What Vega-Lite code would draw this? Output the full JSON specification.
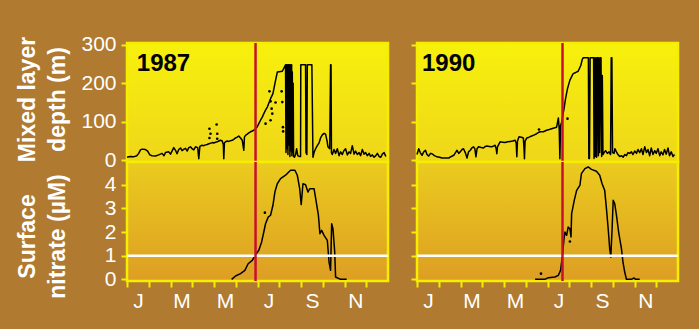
{
"$schema": "https://vega.github.io/schema/vega-lite/v6.json",
"padding": {"left": 14, "top": 32, "right": 18, "bottom": 20},
"background": "#b07a30",
"datasets": {
"mld87": [{"m":0.00,"v":8},{"m":0.15,"v":10},{"m":0.30,"v":9},{"m":0.45,"v":12},{"m":0.54,"v":18},{"m":0.62,"v":27},{"m":0.69,"v":29},{"m":0.85,"v":28},{"m":0.95,"v":24},{"m":1.05,"v":14},{"m":1.15,"v":12},{"m":1.31,"v":11},{"m":1.46,"v":14},{"m":1.61,"v":18},{"m":1.70,"v":12},{"m":1.77,"v":20},{"m":1.92,"v":22},{"m":2.00,"v":16},{"m":2.07,"v":24},{"m":2.15,"v":33},{"m":2.23,"v":26},{"m":2.30,"v":17},{"m":2.38,"v":28},{"m":2.46,"v":32},{"m":2.53,"v":25},{"m":2.62,"v":29},{"m":2.69,"v":31},{"m":2.77,"v":24},{"m":2.84,"v":33},{"m":2.92,"v":35},{"m":2.99,"v":30},{"m":3.07,"v":27},{"m":3.15,"v":35},{"m":3.25,"v":33},{"m":3.30,"v":4},{"m":3.35,"v":36},{"m":3.45,"v":39},{"m":3.53,"v":38},{"m":3.61,"v":40},{"m":3.69,"v":41},{"m":3.76,"v":43},{"m":3.84,"v":44},{"m":3.92,"v":46},{"m":3.99,"v":45},{"m":4.07,"v":47},{"m":4.15,"v":48},{"m":4.22,"v":50},{"m":4.30,"v":52},{"m":4.38,"v":50},{"m":4.43,"v":40},{"m":4.45,"v":4},{"m":4.48,"v":45},{"m":4.53,"v":48},{"m":4.61,"v":50},{"m":4.68,"v":49},{"m":4.76,"v":51},{"m":4.84,"v":52},{"m":4.92,"v":55},{"m":4.99,"v":58},{"m":5.07,"v":60},{"m":5.14,"v":63},{"m":5.22,"v":58},{"m":5.30,"v":52},{"m":5.37,"v":26},{"m":5.40,"v":60},{"m":5.45,"v":65},{"m":5.53,"v":68},{"m":5.60,"v":71},{"m":5.68,"v":74},{"m":5.76,"v":76},{"m":5.83,"v":78},{"m":5.91,"v":82},{"m":5.99,"v":87},{"m":6.06,"v":95},{"m":6.14,"v":104},{"m":6.22,"v":112},{"m":6.29,"v":121},{"m":6.37,"v":130},{"m":6.45,"v":138},{"m":6.52,"v":148},{"m":6.60,"v":160},{"m":6.71,"v":173},{"m":6.80,"v":199},{"m":6.91,"v":229},{"m":7.00,"v":230},{"m":7.14,"v":231},{"m":7.22,"v":240},{"m":7.29,"v":248},{"m":7.31,"v":20},{"m":7.33,"v":248},{"m":7.35,"v":248},{"m":7.36,"v":30},{"m":7.38,"v":248},{"m":7.40,"v":15},{"m":7.42,"v":248},{"m":7.44,"v":248},{"m":7.45,"v":40},{"m":7.47,"v":248},{"m":7.49,"v":10},{"m":7.51,"v":248},{"m":7.53,"v":25},{"m":7.55,"v":248},{"m":7.57,"v":248},{"m":7.58,"v":12},{"m":7.60,"v":230},{"m":7.62,"v":20},{"m":7.64,"v":200},{"m":7.66,"v":10},{"m":7.70,"v":8},{"m":7.75,"v":15},{"m":7.80,"v":30},{"m":7.85,"v":12},{"m":7.91,"v":10},{"m":7.98,"v":10},{"m":7.99,"v":248},{"m":8.21,"v":248},{"m":8.23,"v":20},{"m":8.27,"v":15},{"m":8.29,"v":248},{"m":8.50,"v":248},{"m":8.55,"v":8},{"m":8.60,"v":20},{"m":8.67,"v":30},{"m":8.75,"v":38},{"m":8.83,"v":45},{"m":8.90,"v":58},{"m":8.98,"v":66},{"m":9.06,"v":70},{"m":9.13,"v":68},{"m":9.20,"v":50},{"m":9.24,"v":35},{"m":9.32,"v":30},{"m":9.36,"v":248},{"m":9.38,"v":248},{"m":9.40,"v":20},{"m":9.44,"v":15},{"m":9.52,"v":28},{"m":9.59,"v":18},{"m":9.67,"v":30},{"m":9.75,"v":12},{"m":9.82,"v":22},{"m":9.90,"v":15},{"m":9.97,"v":25},{"m":10.05,"v":30},{"m":10.13,"v":14},{"m":10.21,"v":22},{"m":10.28,"v":18},{"m":10.36,"v":38},{"m":10.44,"v":16},{"m":10.51,"v":24},{"m":10.59,"v":15},{"m":10.67,"v":20},{"m":10.74,"v":12},{"m":10.82,"v":28},{"m":10.90,"v":16},{"m":10.97,"v":20},{"m":11.05,"v":12},{"m":11.13,"v":18},{"m":11.20,"v":10},{"m":11.28,"v":14},{"m":11.36,"v":8},{"m":11.44,"v":12},{"m":11.51,"v":18},{"m":11.59,"v":10},{"m":11.67,"v":8},{"m":11.74,"v":16},{"m":11.82,"v":20},{"m":11.90,"v":10}],
"mld90": [{"m":0.00,"v":15},{"m":0.08,"v":30},{"m":0.15,"v":20},{"m":0.23,"v":13},{"m":0.31,"v":22},{"m":0.39,"v":26},{"m":0.46,"v":15},{"m":0.54,"v":11},{"m":0.62,"v":18},{"m":0.69,"v":17},{"m":0.80,"v":12},{"m":0.92,"v":9},{"m":1.04,"v":8},{"m":1.15,"v":6},{"m":1.30,"v":6},{"m":1.46,"v":6},{"m":1.58,"v":10},{"m":1.69,"v":13},{"m":1.77,"v":20},{"m":1.84,"v":26},{"m":1.92,"v":18},{"m":1.99,"v":22},{"m":2.07,"v":28},{"m":2.14,"v":30},{"m":2.22,"v":20},{"m":2.30,"v":6},{"m":2.37,"v":22},{"m":2.45,"v":26},{"m":2.52,"v":32},{"m":2.60,"v":35},{"m":2.66,"v":30},{"m":2.71,"v":9},{"m":2.76,"v":30},{"m":2.83,"v":35},{"m":2.95,"v":33},{"m":3.06,"v":32},{"m":3.14,"v":36},{"m":3.21,"v":37},{"m":3.32,"v":36},{"m":3.44,"v":35},{"m":3.52,"v":37},{"m":3.59,"v":39},{"m":3.64,"v":30},{"m":3.67,"v":17},{"m":3.70,"v":35},{"m":3.82,"v":48},{"m":3.93,"v":47},{"m":4.05,"v":46},{"m":4.17,"v":48},{"m":4.28,"v":49},{"m":4.40,"v":50},{"m":4.51,"v":52},{"m":4.56,"v":45},{"m":4.59,"v":9},{"m":4.62,"v":50},{"m":4.69,"v":61},{"m":4.80,"v":60},{"m":4.89,"v":58},{"m":4.92,"v":30},{"m":4.94,"v":4},{"m":4.97,"v":50},{"m":5.05,"v":58},{"m":5.15,"v":60},{"m":5.27,"v":63},{"m":5.40,"v":66},{"m":5.50,"v":69},{"m":5.58,"v":72},{"m":5.66,"v":74},{"m":5.81,"v":74},{"m":5.96,"v":78},{"m":6.08,"v":80},{"m":6.19,"v":82},{"m":6.30,"v":84},{"m":6.42,"v":86},{"m":6.50,"v":110},{"m":6.54,"v":80},{"m":6.57,"v":4},{"m":6.60,"v":90},{"m":6.65,"v":99},{"m":6.70,"v":115},{"m":6.76,"v":134},{"m":6.83,"v":160},{"m":6.92,"v":186},{"m":7.03,"v":208},{"m":7.18,"v":225},{"m":7.30,"v":228},{"m":7.41,"v":231},{"m":7.53,"v":246},{"m":7.60,"v":262},{"m":7.64,"v":266},{"m":7.88,"v":266},{"m":7.90,"v":5},{"m":7.93,"v":5},{"m":7.96,"v":266},{"m":8.12,"v":266},{"m":8.14,"v":5},{"m":8.18,"v":266},{"m":8.20,"v":10},{"m":8.23,"v":266},{"m":8.26,"v":8},{"m":8.29,"v":266},{"m":8.32,"v":266},{"m":8.34,"v":12},{"m":8.37,"v":266},{"m":8.40,"v":20},{"m":8.43,"v":266},{"m":8.46,"v":266},{"m":8.49,"v":10},{"m":8.52,"v":220},{"m":8.55,"v":15},{"m":8.60,"v":20},{"m":8.67,"v":25},{"m":8.75,"v":18},{"m":8.83,"v":22},{"m":8.90,"v":15},{"m":8.93,"v":266},{"m":8.96,"v":266},{"m":8.99,"v":20},{"m":9.06,"v":18},{"m":9.10,"v":30},{"m":9.17,"v":22},{"m":9.24,"v":15},{"m":9.32,"v":10},{"m":9.40,"v":12},{"m":9.48,"v":8},{"m":9.55,"v":15},{"m":9.63,"v":12},{"m":9.70,"v":20},{"m":9.78,"v":18},{"m":9.86,"v":22},{"m":9.93,"v":15},{"m":10.01,"v":24},{"m":10.09,"v":18},{"m":10.16,"v":28},{"m":10.24,"v":20},{"m":10.32,"v":30},{"m":10.39,"v":15},{"m":10.47,"v":35},{"m":10.55,"v":20},{"m":10.62,"v":28},{"m":10.70,"v":12},{"m":10.77,"v":32},{"m":10.85,"v":15},{"m":10.93,"v":25},{"m":11.00,"v":18},{"m":11.08,"v":30},{"m":11.16,"v":12},{"m":11.23,"v":22},{"m":11.31,"v":14},{"m":11.38,"v":28},{"m":11.46,"v":16},{"m":11.54,"v":32},{"m":11.61,"v":12},{"m":11.69,"v":22},{"m":11.77,"v":10},{"m":11.84,"v":15}],
"no87": [{"m":4.81,"v":0.0},{"m":4.99,"v":0.14},{"m":5.22,"v":0.24},{"m":5.42,"v":0.38},{"m":5.57,"v":0.66},{"m":5.76,"v":0.80},{"m":5.91,"v":1.04},{"m":6.06,"v":1.23},{"m":6.19,"v":1.58},{"m":6.29,"v":2.0},{"m":6.37,"v":2.35},{"m":6.49,"v":2.63},{"m":6.60,"v":2.71},{"m":6.71,"v":3.13},{"m":6.80,"v":3.69},{"m":6.91,"v":4.04},{"m":7.06,"v":4.26},{"m":7.29,"v":4.40},{"m":7.52,"v":4.61},{"m":7.72,"v":4.61},{"m":7.83,"v":4.40},{"m":7.94,"v":3.83},{"m":8.01,"v":3.16},{"m":8.09,"v":4.04},{"m":8.21,"v":4.0},{"m":8.32,"v":3.69},{"m":8.40,"v":3.83},{"m":8.60,"v":3.83},{"m":8.70,"v":3.27},{"m":8.80,"v":2.71},{"m":8.87,"v":1.93},{"m":8.95,"v":2.07},{"m":9.06,"v":1.86},{"m":9.21,"v":1.65},{"m":9.29,"v":0.73},{"m":9.36,"v":0.38},{"m":9.41,"v":2.35},{"m":9.47,"v":2.14},{"m":9.55,"v":1.16},{"m":9.59,"v":0.10},{"m":9.82,"v":0.0},{"m":10.10,"v":0.0}],
"no90": [{"m":5.43,"v":0},{"m":5.88,"v":0},{"m":6.04,"v":0.07},{"m":6.34,"v":0.1},{"m":6.50,"v":0.17},{"m":6.60,"v":0.38},{"m":6.68,"v":0.94},{"m":6.76,"v":1.72},{"m":6.80,"v":2.0},{"m":6.88,"v":1.86},{"m":6.95,"v":2.21},{"m":7.03,"v":2.14},{"m":7.08,"v":1.79},{"m":7.11,"v":2.78},{"m":7.23,"v":3.34},{"m":7.34,"v":3.76},{"m":7.49,"v":3.97},{"m":7.56,"v":4.47},{"m":7.72,"v":4.68},{"m":7.87,"v":4.75},{"m":8.02,"v":4.65},{"m":8.25,"v":4.57},{"m":8.40,"v":4.40},{"m":8.51,"v":4.04},{"m":8.63,"v":3.76},{"m":8.71,"v":2.99},{"m":8.79,"v":2.14},{"m":8.86,"v":1.30},{"m":8.91,"v":0.94},{"m":8.97,"v":2.14},{"m":9.02,"v":3.34},{"m":9.09,"v":3.20},{"m":9.17,"v":2.71},{"m":9.27,"v":2.0},{"m":9.40,"v":1.30},{"m":9.47,"v":0.73},{"m":9.55,"v":0.31},{"m":9.63,"v":0},{"m":9.86,"v":0},{"m":9.98,"v":0.06},{"m":10.05,"v":0},{"m":10.24,"v":0}],
"dots87u": [{"m":3.79,"v":82},{"m":3.79,"v":58},{"m":3.84,"v":69},{"m":4.12,"v":93},{"m":4.15,"v":69},{"m":4.15,"v":56},{"m":6.37,"v":95},{"m":6.55,"v":179},{"m":6.60,"v":153},{"m":6.65,"v":134},{"m":6.68,"v":121},{"m":6.60,"v":104},{"m":6.83,"v":150},{"m":7.11,"v":179},{"m":7.14,"v":151},{"m":7.17,"v":86},{"m":7.18,"v":75}],
"dots87l": [{"m":6.34,"v":2.82}],
"dots90u": [{"m":5.61,"v":80},{"m":6.92,"v":108}],
"dots90l": [{"m":5.70,"v":0.24},{"m":7.03,"v":1.6}],
"years": [{"year":1987,"m":5.91,"label":"1987"},{"year":1990,"m":6.69,"label":"1990"}]
},
"columns": 2,
"bounds": "flush",
"spacing": {"row": 0, "column": 29},
"concat": [
{
"width": 261, "height": 119,
"view": {"fill": {"gradient": "linear", "x1": 0, "y1": 0, "x2": 0, "y2": 1, "stops": [{"offset": 0, "color": "#f7f10c"}, {"offset": 1, "color": "#efd61a"}]}},
"layer": [
{"data": {"name": "mld87"}, "mark": {"type": "line", "color": "#000000", "strokeWidth": 1.5, "strokeJoin": "round"},
 "encoding": {"x": {"field": "m", "type": "quantitative", "scale": {"domain": [0, 12], "nice": false, "zero": false}, "axis": {"values": [0,1,2,3,4,5,6,7,8,9,10,11], "tickCount": 30, "labels": false, "title": null}},
  "y": {"field": "v", "type": "quantitative", "scale": {"domain": [-4.4, 304.4], "nice": false, "zero": false}, "axis": {"values": [0,100,200,300], "tickCount": 30, "format": "d", "labelOverlap": false, "title": ["Mixed layer", "depth (m)"], "titleLineHeight": 30, "titleX": -88, "titleY": 56}}}},
{"data": {"name": "dots87u"}, "mark": {"type": "circle", "size": 7, "color": "#000000", "opacity": 1},
 "encoding": {"x": {"field": "m", "type": "quantitative"}, "y": {"field": "v", "type": "quantitative"}}},
{"data": {"name": "years"}, "transform": [{"filter": "datum.year == 1987"}], "mark": {"type": "rule", "color": "#c8102e", "strokeWidth": 2.5},
 "encoding": {"x": {"field": "m", "type": "quantitative"}}},
{"data": {"name": "years"}, "transform": [{"filter": "datum.year == 1987"}], "mark": {"type": "text", "align": "left", "baseline": "alphabetic", "fontSize": 24, "fontWeight": "bold", "color": "#000000", "font": "Liberation Sans"},
 "encoding": {"x": {"datum": 0.45, "type": "quantitative"}, "y": {"datum": 233, "type": "quantitative"}, "text": {"field": "label"}}}
]
},
{
"width": 261, "height": 119,
"view": {"fill": {"gradient": "linear", "x1": 0, "y1": 0, "x2": 0, "y2": 1, "stops": [{"offset": 0, "color": "#f7f10c"}, {"offset": 1, "color": "#efd61a"}]}},
"layer": [
{"data": {"name": "mld90"}, "mark": {"type": "line", "color": "#000000", "strokeWidth": 1.5, "strokeJoin": "round"},
 "encoding": {"x": {"field": "m", "type": "quantitative", "scale": {"domain": [0, 12], "nice": false, "zero": false}, "axis": {"values": [0,1,2,3,4,5,6,7,8,9,10,11], "tickCount": 30, "labels": false, "title": null}},
  "y": {"field": "v", "type": "quantitative", "scale": {"domain": [-4.4, 304.4], "nice": false, "zero": false}, "axis": {"values": [0,100,200,300], "tickCount": 30, "labels": false, "title": null}}}},
{"data": {"name": "dots90u"}, "mark": {"type": "circle", "size": 7, "color": "#000000", "opacity": 1},
 "encoding": {"x": {"field": "m", "type": "quantitative"}, "y": {"field": "v", "type": "quantitative"}}},
{"data": {"name": "years"}, "transform": [{"filter": "datum.year == 1990"}], "mark": {"type": "rule", "color": "#c8102e", "strokeWidth": 2.5},
 "encoding": {"x": {"field": "m", "type": "quantitative"}}},
{"data": {"name": "years"}, "transform": [{"filter": "datum.year == 1990"}], "mark": {"type": "text", "align": "left", "baseline": "alphabetic", "fontSize": 24, "fontWeight": "bold", "color": "#000000", "font": "Liberation Sans"},
 "encoding": {"x": {"datum": 0.23, "type": "quantitative"}, "y": {"datum": 233, "type": "quantitative"}, "text": {"field": "label"}}}
]
},
{
"width": 261, "height": 119,
"view": {"fill": {"gradient": "linear", "x1": 0, "y1": 0, "x2": 0, "y2": 1, "stops": [{"offset": 0, "color": "#ebcc1e"}, {"offset": 1, "color": "#dd9e24"}]}},
"layer": [
{"data": {"name": "no87"}, "mark": {"type": "line", "color": "#000000", "strokeWidth": 1.5, "strokeJoin": "round"},
 "encoding": {"x": {"field": "m", "type": "quantitative", "scale": {"domain": [0, 12], "nice": false, "zero": false}, "axis": {"values": [0,1,2,3,4,5,6,7,8,9,10,11], "tickCount": 30, "title": null, "labelExpr": "datum.value == 0 ? 'J' : datum.value == 2 ? 'M' : datum.value == 4 ? 'M' : datum.value == 6 ? 'J' : datum.value == 8 ? 'S' : datum.value == 10 ? 'N' : ''", "labelOffset": 10.9, "labelFlush": false, "labelOverlap": false, "labelPadding": 3}},
  "y": {"field": "v", "type": "quantitative", "scale": {"domain": [-0.07, 4.96], "nice": false, "zero": false}, "axis": {"values": [0,1,2,3,4], "tickCount": 30, "format": "d", "labelOverlap": false, "title": ["Surface", "nitrate (µM)"], "titleLineHeight": 30, "titleX": -88, "titleY": 74}}}},
{"data": {"name": "dots87l"}, "mark": {"type": "circle", "size": 7, "color": "#000000", "opacity": 1},
 "encoding": {"x": {"field": "m", "type": "quantitative"}, "y": {"field": "v", "type": "quantitative"}}},
{"data": {"name": "years"}, "transform": [{"filter": "datum.year == 1987"}], "mark": {"type": "rule", "color": "#ffffff", "strokeWidth": 2.5},
 "encoding": {"y": {"datum": 1, "type": "quantitative"}}},
{"data": {"name": "years"}, "transform": [{"filter": "datum.year == 1987"}], "mark": {"type": "rule", "color": "#c8102e", "strokeWidth": 2.5},
 "encoding": {"x": {"field": "m", "type": "quantitative"}}}
]
},
{
"width": 261, "height": 119,
"view": {"fill": {"gradient": "linear", "x1": 0, "y1": 0, "x2": 0, "y2": 1, "stops": [{"offset": 0, "color": "#ebcc1e"}, {"offset": 1, "color": "#dd9e24"}]}},
"layer": [
{"data": {"name": "no90"}, "mark": {"type": "line", "color": "#000000", "strokeWidth": 1.5, "strokeJoin": "round"},
 "encoding": {"x": {"field": "m", "type": "quantitative", "scale": {"domain": [0, 12], "nice": false, "zero": false}, "axis": {"values": [0,1,2,3,4,5,6,7,8,9,10,11], "tickCount": 30, "title": null, "labelExpr": "datum.value == 0 ? 'J' : datum.value == 2 ? 'M' : datum.value == 4 ? 'M' : datum.value == 6 ? 'J' : datum.value == 8 ? 'S' : datum.value == 10 ? 'N' : ''", "labelOffset": 10.9, "labelFlush": false, "labelOverlap": false, "labelPadding": 3}},
  "y": {"field": "v", "type": "quantitative", "scale": {"domain": [-0.07, 4.96], "nice": false, "zero": false}, "axis": {"values": [0,1,2,3,4], "tickCount": 30, "labels": false, "title": null}}}},
{"data": {"name": "dots90l"}, "mark": {"type": "circle", "size": 7, "color": "#000000", "opacity": 1},
 "encoding": {"x": {"field": "m", "type": "quantitative"}, "y": {"field": "v", "type": "quantitative"}}},
{"data": {"name": "years"}, "transform": [{"filter": "datum.year == 1990"}], "mark": {"type": "rule", "color": "#ffffff", "strokeWidth": 2.5},
 "encoding": {"y": {"datum": 1, "type": "quantitative"}}},
{"data": {"name": "years"}, "transform": [{"filter": "datum.year == 1990"}], "mark": {"type": "rule", "color": "#c8102e", "strokeWidth": 2.5},
 "encoding": {"x": {"field": "m", "type": "quantitative"}}}
]
}
],
"config": {
"font": "Liberation Sans",
"view": {"stroke": "#f6ee00", "strokeWidth": 2.5},
"axis": {"domain": false, "grid": false, "tickColor": "#f6ee00", "tickWidth": 2, "tickSize": 6, "labelColor": "#ffffff", "labelFont": "Liberation Sans", "labelFontSize": 21, "labelOverlap": false, "titleColor": "#ffffff", "titleFont": "Liberation Sans", "titleFontSize": 23, "titleFontWeight": "bold"},
"axisY": {"labelPadding": 5, "titleAngle": -90, "titleBaseline": "bottom", "titleAlign": "center"}
}
}
